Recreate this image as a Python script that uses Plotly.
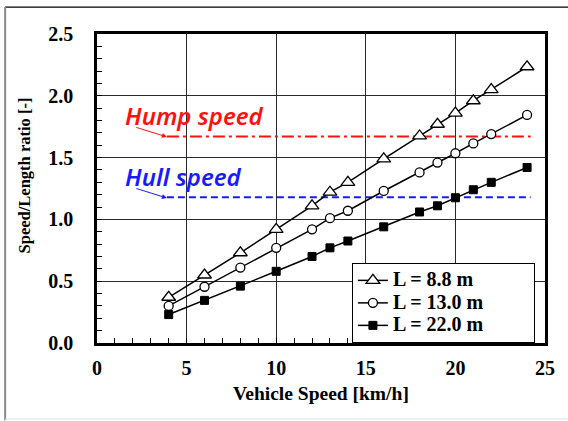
import plotly.graph_objects as go

speed = [4, 6, 8, 10, 12, 13, 14, 16, 18, 19, 20, 21, 22, 24]
ratio_88 = [0.37, 0.55, 0.73, 0.92, 1.11, 1.22, 1.30, 1.49, 1.675, 1.77, 1.86, 1.96, 2.05, 2.235]
ratio_130 = [0.30, 0.455, 0.61, 0.77, 0.92, 1.01, 1.07, 1.23, 1.38, 1.46, 1.535, 1.615, 1.69, 1.845]
ratio_220 = [0.23, 0.345, 0.46, 0.58, 0.70, 0.77, 0.825, 0.94, 1.06, 1.11, 1.175, 1.24, 1.30, 1.42]
ref_x = [3.9, 24.2]
hump = [1.67, 1.67]
hull = [1.18, 1.18]
series_names = ["L = 8.8 m", "L = 13.0 m", "L = 22.0 m"]

serif = "Liberation Serif"
sans = "Noto Sans"
pad = "\u00a0" * 9


def legend_label(s):
    return "<span style='font-size:20px'>" + s + pad + "</span>"


fig = go.Figure()
fig.add_trace(go.Scatter(x=ref_x, y=hump, mode="lines", showlegend=False,
                         line=dict(color="#ff1010", width=2, dash="12px,4px,3px,4px")))
fig.add_trace(go.Scatter(x=ref_x, y=hull, mode="lines", showlegend=False,
                         line=dict(color="#1a1aff", width=2, dash="7px,4px")))
fig.add_trace(go.Scatter(x=speed, y=ratio_88, mode="lines+markers", name=legend_label(series_names[0]),
                         line=dict(color="black", width=1.5),
                         marker=dict(symbol="triangle-up", size=12, color="white",
                                     line=dict(color="black", width=1.3))))
fig.add_trace(go.Scatter(x=speed, y=ratio_130, mode="lines+markers", name=legend_label(series_names[1]),
                         line=dict(color="black", width=1.5),
                         marker=dict(symbol="circle", size=9, color="white",
                                     line=dict(color="black", width=1.3))))
fig.add_trace(go.Scatter(x=speed, y=ratio_220, mode="lines+markers", name=legend_label(series_names[2]),
                         line=dict(color="black", width=1.5),
                         marker=dict(symbol="square", size=8, color="black",
                                     line=dict(color="black", width=1))))

axis_common = dict(showline=True, linecolor="black", linewidth=2.5, mirror=True,
                   showgrid=True, gridcolor="#2a2a2a", gridwidth=1.2,
                   ticks="inside", ticklen=5, tickcolor="black", tickwidth=1,
                   zeroline=False,
                   tickfont=dict(family=serif, size=20, color="black", weight="bold"))

fig.update_xaxes(range=[0, 25], dtick=5, tick0=0, ticklabelstandoff=5,
                 minor=dict(dtick=1, ticks="inside", ticklen=5, tickcolor="black", showgrid=False),
                 **axis_common)
fig.update_yaxes(range=[0, 2.5], dtick=0.5, tick0=0, tickformat=".1f", ticklabelstandoff=17,
                 minor=dict(dtick=0.1, ticks="inside", ticklen=5, tickcolor="black", showgrid=False),
                 **axis_common)

annotations = [
    dict(text="Hump speed", x=1.45, y=1.84, xref="x", yref="y", xanchor="left", yanchor="middle",
         showarrow=False, font=dict(family=sans, size=24, color="#ff1010", style="italic", weight=600)),
    dict(text="Hull speed", x=1.45, y=1.345, xref="x", yref="y", xanchor="left", yanchor="middle",
         showarrow=False, font=dict(family=sans, size=24, color="#1a1aff", style="italic", weight=600)),
    dict(text="", x=3.9, y=1.667, xref="x", yref="y", ax=-32, ay=-10, showarrow=True,
         arrowhead=2, arrowsize=1, arrowwidth=1, arrowcolor="#ff1010"),
    dict(text="", x=3.9, y=1.173, xref="x", yref="y", ax=-32, ay=-10, showarrow=True,
         arrowhead=2, arrowsize=1, arrowwidth=1, arrowcolor="#1a1aff"),
    dict(text="Vehicle Speed [km/h]", x=0.5, y=-0.162, xref="paper", yref="paper",
         xanchor="center", yanchor="middle", showarrow=False,
         font=dict(family=serif, size=19.5, color="black", weight="bold")),
    dict(text="Speed/Length ratio [-]", x=-0.161, y=0.542, xref="paper", yref="paper",
         xanchor="center", yanchor="middle", textangle=-90, showarrow=False,
         font=dict(family=serif, size=16.5, color="black", weight="bold")),
]

shapes = [
    dict(type="line", xref="paper", yref="paper", x0=-0.205, x1=1.06, y0=1.087, y1=1.087,
         line=dict(color="black", width=1.2)),
    dict(type="line", xref="paper", yref="paper", x0=-0.205, x1=-0.205, y0=1.087, y1=-0.25,
         line=dict(color="#8a8a8a", width=2)),
    dict(type="line", xref="paper", yref="paper", x0=-0.205, x1=1.06, y0=-0.246, y1=-0.246,
         line=dict(color="#e6e6e6", width=1)),
]

fig.update_layout(
    width=568, height=421,
    margin=dict(l=97, r=23, t=34, b=78, pad=0),
    paper_bgcolor="white", plot_bgcolor="white",
    showlegend=True,
    legend=dict(x=0.569, y=0.2585, xanchor="left", yanchor="top",
                bgcolor="white", bordercolor="black", borderwidth=1,
                font=dict(family=serif, size=15, color="black", weight="bold"),
                itemwidth=30, tracegroupgap=0),
    annotations=annotations,
    shapes=shapes,
)

fig.write_html("out.html")
